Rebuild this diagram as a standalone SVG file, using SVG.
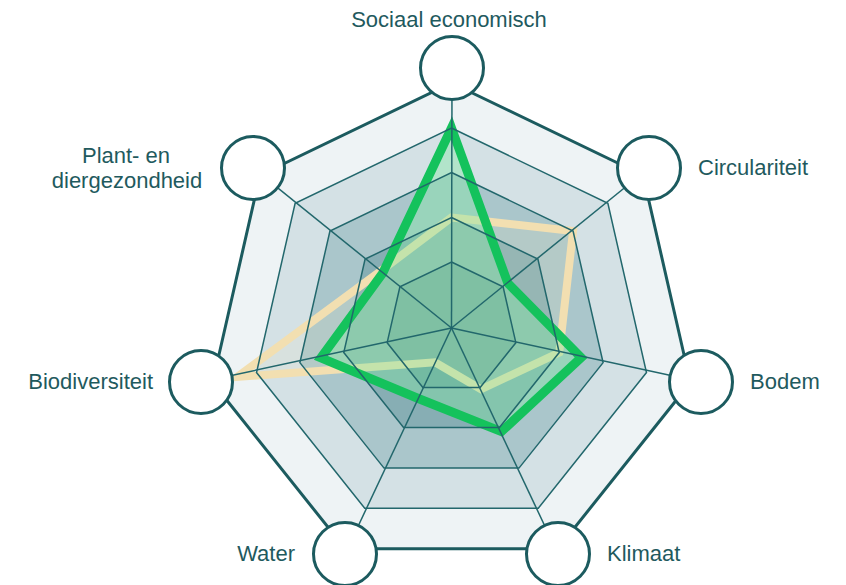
<svg xmlns="http://www.w3.org/2000/svg" width="846" height="585" viewBox="0 0 846 585">
<style>
.lbl{font-family:"Liberation Sans",Arial,sans-serif;font-size:22px;fill:#1f5a5e}
.ring{fill:none;stroke:#22676c;stroke-width:1.5;stroke-linejoin:miter}
.spoke{stroke:#22676c;stroke-width:1.5;fill:none}
.node{fill:#ffffff;stroke:#1c5b5f;stroke-width:3}
</style>
<rect width="846" height="585" fill="#ffffff"/>
<g id="bands">
<polygon points="451.5,83 643.05,175.24 690.36,382.52 557.8,548.74 345.2,548.74 212.64,382.52 259.95,175.24" fill="#eef3f5"/>
<polygon points="451.5,128 607.87,203.3 646.49,372.5 538.28,508.19 364.72,508.19 256.51,372.5 295.13,203.3" fill="#d4e1e5"/>
<polygon points="451.5,172.5 573.07,231.05 603.1,362.6 518.97,468.1 384.03,468.1 299.9,362.6 329.93,231.05" fill="#aac6cb"/>
<polygon points="451.5,217.5 537.89,259.1 559.23,352.59 499.44,427.56 403.56,427.56 343.77,352.59 365.11,259.1" fill="#87aeb4"/>
<polygon points="451.5,262 503.1,286.85 515.85,342.69 480.14,387.46 422.86,387.46 387.15,342.69 399.9,286.85" fill="#6c9ca2"/>
</g>
<g id="series-yellow">
<polygon points="451.5,217.5 573.07,231.05 559.23,352.59 481,389.27 435.01,362.24 237.02,376.95 380.35,271.26" fill="#f3e2b3" fill-opacity="0.15" stroke="#f2dfb1" stroke-width="8" stroke-linejoin="miter" stroke-miterlimit="12"/>
</g>
<g id="series-green">
<polygon points="451.5,128 507.79,283.11 581.17,357.6 501.4,431.61 417.66,398.28 320.86,357.82 382.7,273.13" fill="#7fe8a2" fill-opacity="0.4" stroke="none"/>
<polygon points="451.5,128 507.79,283.11 581.17,357.6 501.4,431.61 417.66,398.28 320.86,357.82 382.7,273.13" fill="none" stroke="#14c25c" stroke-width="9" stroke-linejoin="miter" stroke-miterlimit="6"/>
</g>
<g id="grid">
<polygon class="ring" points="451.5,128 607.87,203.3 646.49,372.5 538.28,508.19 364.72,508.19 256.51,372.5 295.13,203.3"/>
<polygon class="ring" points="451.5,172.5 573.07,231.05 603.1,362.6 518.97,468.1 384.03,468.1 299.9,362.6 329.93,231.05"/>
<polygon class="ring" points="451.5,217.5 537.89,259.1 559.23,352.59 499.44,427.56 403.56,427.56 343.77,352.59 365.11,259.1"/>
<polygon class="ring" points="451.5,262 503.1,286.85 515.85,342.69 480.14,387.46 422.86,387.46 387.15,342.69 399.9,286.85"/>
<polygon points="451.5,83 643.05,175.24 690.36,382.52 557.8,548.74 345.2,548.74 212.64,382.52 259.95,175.24" fill="none" stroke="#1c5b5f" stroke-width="3"/>
</g>
<g id="connectors">
<line class="spoke" x1="451.5" y1="328" x2="452" y2="68"/>
<line class="spoke" x1="451.5" y1="328" x2="649" y2="168"/>
<line class="spoke" x1="451.5" y1="328" x2="701" y2="382"/>
<line class="spoke" x1="451.5" y1="328" x2="558" y2="554"/>
<line class="spoke" x1="451.5" y1="328" x2="345" y2="554"/>
<line class="spoke" x1="451.5" y1="328" x2="201" y2="382"/>
<line class="spoke" x1="451.5" y1="328" x2="253" y2="168"/>
</g>
<g id="node-sociaal">
<circle class="node" cx="452" cy="68" r="31.5"/>
<text class="lbl" x="449" y="27" text-anchor="middle">Sociaal economisch</text>
</g>
<g id="node-circulariteit">
<circle class="node" cx="649" cy="168" r="31.5"/>
<text class="lbl" x="698" y="175">Circulariteit</text>
</g>
<g id="node-bodem">
<circle class="node" cx="701" cy="382" r="31.5"/>
<text class="lbl" x="750" y="389">Bodem</text>
</g>
<g id="node-klimaat">
<circle class="node" cx="558" cy="554" r="31.5"/>
<text class="lbl" x="607" y="561">Klimaat</text>
</g>
<g id="node-water">
<circle class="node" cx="345" cy="554" r="31.5"/>
<text class="lbl" x="295" y="561" text-anchor="end">Water</text>
</g>
<g id="node-biodiversiteit">
<circle class="node" cx="201" cy="382" r="31.5"/>
<text class="lbl" x="153" y="389" text-anchor="end">Biodiversiteit</text>
</g>
<g id="node-plant">
<circle class="node" cx="253" cy="168" r="31.5"/>
<text class="lbl" x="126" y="163" text-anchor="middle">Plant- en</text>
<text class="lbl" x="127" y="188" text-anchor="middle">diergezondheid</text>
</g>
</svg>
